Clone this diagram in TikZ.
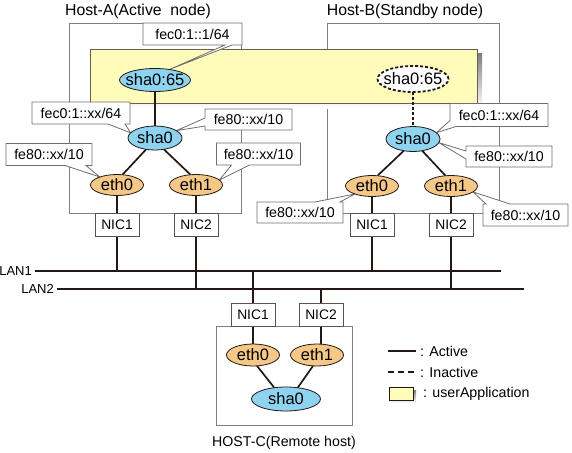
\documentclass[tikz,border=0pt]{standalone}
\usepackage{fontspec}
\setmainfont{Liberation Sans}
\usetikzlibrary{shapes.geometric,calc}
\pgfdeclarelayer{back}
\pgfdeclarelayer{callout}
\pgfsetlayers{back,callout,main}
\definecolor{ink}{HTML}{231815}
\definecolor{lblue}{HTML}{8ED3F0}
\definecolor{lorange}{HTML}{F5C888}
\definecolor{lyellow}{HTML}{FFFBB9}
\definecolor{shade}{HTML}{9A9A9A}
\definecolor{hostgray}{HTML}{7F7F7F}
\definecolor{callgray}{HTML}{6E6E6E}
\tikzset{
 px/.style={x=1pt,y=-1pt},
 hostbox/.style={draw=hostgray,line width=0.9pt,inner sep=0pt,outer sep=0pt},
 conn/.style={draw=ink,line width=1.7pt},
 inact/.style={draw=ink,line width=1.8pt,dash pattern=on 3pt off 2pt},
 ellbase/.style={ellipse,draw=ink,line width=0.8pt,inner sep=0pt,outer sep=0pt},
 eblue/.style={ellbase,fill=lblue},
 eorange/.style={ellbase,fill=lorange},
 etxt/.style={font=\fontsize{16.5}{19}\selectfont,inner sep=0pt},
 nicbox/.style={draw=ink!75,fill=white,line width=0.9pt,minimum width=44pt,minimum height=23pt,inner sep=0pt,outer sep=0pt,font=\fontsize{13.8}{16}\selectfont},
 calltext/.style={inner sep=0pt,outer sep=0pt,font=\fontsize{14.2}{16}\selectfont},
 callshape/.style={fill=white,draw=callgray,line width=0.8pt,line join=miter},
 lbl/.style={inner sep=0pt,font=\fontsize{14.2}{16}\selectfont},
 ttl/.style={inner sep=0pt,font=\fontsize{15.8}{18}\selectfont},
}
\begin{document}
\begin{tikzpicture}[px]
\useasboundingbox (0,0) rectangle (572,452);
% titles
\node[ttl] (titleA) at (138,11) {Host-A(Active~~node)};
\node[ttl] (titleB) at (405,11) {Host-B(Standby node)};
\node[lbl] (titleC) at (284,443) {HOST-C(Remote host)};
% ellipses
\node[eblue,minimum width=71pt,minimum height=23pt,label={[etxt]center:{sha0:65}}] (sha0ab) at (155,80) {};
\node[ellbase,fill=white,line width=1.8pt,dash pattern=on 3pt off 2pt,minimum width=71pt,minimum height=26pt,label={[etxt]center:{sha0:65}}] (sha0bb) at (413,79) {};
\node[eblue,minimum width=54pt,minimum height=24pt,label={[etxt]center:{sha0}}] (sha0a) at (155,138) {};
\node[eblue,minimum width=54pt,minimum height=25pt,label={[etxt]center:{sha0}}] (sha0b) at (413,139) {};
\node[eorange,minimum width=53pt,minimum height=21pt,label={[etxt]center:{eth0}}] (eth0a) at (117,185) {};
\node[eorange,minimum width=53pt,minimum height=21pt,label={[etxt]center:{eth1}}] (eth1a) at (196,185) {};
\node[eorange,minimum width=53pt,minimum height=21pt,label={[etxt]center:{eth0}}] (eth0b) at (372,186) {};
\node[eorange,minimum width=53pt,minimum height=21pt,label={[etxt]center:{eth1}}] (eth1b) at (451,186) {};
\node[eorange,minimum width=53pt,minimum height=22pt,label={[etxt]center:{eth0}}] (eth0c) at (253,355) {};
\node[eorange,minimum width=53pt,minimum height=22pt,label={[etxt]center:{eth1}}] (eth1c) at (317,355) {};
\node[eblue,minimum width=69pt,minimum height=24pt,label={[etxt]center:{sha0}}] (sha0c) at (286,399) {};
% NICs
\node[nicbox] (nic1a) at (117,224.5) {NIC1};
\node[nicbox] (nic2a) at (196,224.5) {NIC2};
\node[nicbox] (nic1b) at (372,224.5) {NIC1};
\node[nicbox] (nic2b) at (451,224.5) {NIC2};
\node[nicbox] (nic1c) at (253,314.5) {NIC1};
\node[nicbox] (nic2c) at (321,314.5) {NIC2};
% LANs
\coordinate (lan1w) at (35,271);
\coordinate (lan1e) at (501,271);
\coordinate (lan2w) at (57,289);
\coordinate (lan2e) at (524,289);
\node[lbl,anchor=east,font=\fontsize{13}{15}\selectfont] (lan1) at (32,271) {LAN1};
\node[lbl,anchor=east,font=\fontsize{13}{15}\selectfont] (lan2) at (54,289) {LAN2};
% callout texts
\node[calltext,minimum width=99pt,minimum height=22pt] (c1) at (192.5,34) {fec0:1::1/64};
\node[calltext,minimum width=98pt,minimum height=22pt] (c2) at (81,113) {fec0:1::xx/64};
\node[calltext,minimum width=87pt,minimum height=21pt] (c3) at (248.5,119.5) {fe80::xx/10};
\node[calltext,minimum width=86pt,minimum height=22pt] (c4) at (49,154.5) {fe80::xx/10};
\node[calltext,minimum width=84pt,minimum height=22pt] (c5) at (258.5,154) {fe80::xx/10};
\node[calltext,minimum width=98pt,minimum height=23pt] (c6) at (499,115) {fec0:1::xx/64};
\node[calltext,minimum width=86pt,minimum height=21pt] (c7) at (509,156.5) {fe80::xx/10};
\node[calltext,minimum width=86pt,minimum height=21pt] (c8) at (300,212.5) {fe80::xx/10};
\node[calltext,minimum width=85pt,minimum height=22pt] (c9) at (525.5,215) {fe80::xx/10};
% legend
\coordinate (legA) at (388,351);
\coordinate (legI) at (388,372);
\node[lbl,anchor=west] (legActive) at (420,351) {: Active};
\node[lbl,anchor=west] (legInactive) at (420,372) {: Inactive};
\node[lbl,anchor=west] (legUser) at (423,393.5) {: userApplication};
\draw[conn,line width=1.5pt] (legA) -- ++(28,0);
\draw[draw=ink,line width=1.6pt,dash pattern=on 6pt off 4pt] (legI) -- ++(28,0);
\fill[shade] (392,390) rectangle (416,403);
\node[draw=ink,line width=0.8pt,fill=lyellow,minimum width=24pt,minimum height=13pt,inner sep=0pt,outer sep=0pt] (legY) at (401,393.5) {};

\begin{pgfonlayer}{back}
\node[hostbox,minimum width=172pt,minimum height=190pt] (hostA) at (155,118) {};
\node[hostbox,minimum width=172pt,minimum height=190pt] (hostB) at (413,118) {};
\node[hostbox,minimum width=136pt,minimum height=99pt] (hostC) at (284,375.5) {};
\fill[shade] (95,54) rectangle (482,108);
\node[draw=ink!70,line width=0.6pt,fill=lyellow,minimum width=387pt,minimum height=54pt,inner sep=0pt,outer sep=0pt] (userapp) at (283.5,76) {};
% connectors
\draw[conn] (sha0ab.center) -- (sha0a.center);
\draw[inact] (sha0bb.south) -- (sha0b.north);
\draw[conn] (sha0a.-128) -- (eth0a.62);
\draw[conn] (sha0a.-52) -- (eth1a.118);
\draw[conn] (sha0b.-128) -- (eth0b.62);
\draw[conn] (sha0b.-52) -- (eth1b.118);
\draw[conn] (eth0c.-70) -- (sha0c.136);
\draw[conn] (eth1c.-110) -- (sha0c.44);
\draw[conn] (eth0a.center) -- (nic1a.center);
\draw[conn] (eth1a.center) -- (nic2a.center);
\draw[conn] (eth0b.center) -- (nic1b.center);
\draw[conn] (eth1b.center) -- (nic2b.center);
\draw[conn] (nic1c.center) -- (eth0c.center);
\draw[conn] (nic2c.center) -- (nic2c.center |- eth1c.center);
\draw[conn] (lan1w) -- (lan1e);
\draw[conn] (lan2w) -- (lan2e);
\draw[conn] (nic1a.center) -- (nic1a.center |- lan1w);
\draw[conn] (nic2a.center) -- (nic2a.center |- lan2w);
\draw[conn] (nic1b.center) -- (nic1b.center |- lan1w);
\draw[conn] (nic2b.center) -- (nic2b.center |- lan2w);
\draw[conn] (nic1c.center) -- (nic1c.center |- lan1w);
\draw[conn] (nic2c.center) -- (nic2c.center |- lan2w);
\end{pgfonlayer}

\begin{pgfonlayer}{callout}
% bottom wedge
\path[callshape] (c1.north west) -- (c1.north east) -- (c1.south east) -- ($(c1.south west)+(89,0)$) -- (sha0ab.36) -- ($(c1.south west)+(82,0)$) -- (c1.south west) -- cycle;
\path[callshape] (c2.north west) -- (c2.north east) -- (c2.south east) -- ($(c2.south west)+(93,0)$) -- (sha0a.168) -- ($(c2.south west)+(76,0)$) -- (c2.south west) -- cycle;
% left wedge
\path[callshape] (c3.north west) -- (c3.north east) -- (c3.south east) -- (c3.south west) -- ($(c3.north west)+(0,17)$) -- (sha0a.19) -- ($(c3.north west)+(0,9)$) -- cycle;
\path[callshape] (c4.north west) -- (c4.north east) -- (c4.south east) -- ($(c4.south west)+(80,0)$) -- (eth0a.155) -- ($(c4.south west)+(59,0)$) -- (c4.south west) -- cycle;
\path[callshape] (c5.north west) -- (c5.north east) -- (c5.south east) -- ($(c5.south west)+(33,0)$) -- (eth1a.12) -- ($(c5.south west)+(15,0)$) -- (c5.south west) -- cycle;
% corner wedge
\path[callshape] (c6.north west) -- (c6.north east) -- (c6.south east) -- ($(c6.south west)+(6,0)$) -- (sha0b.15) -- ($(c6.north west)+(0,17)$) -- cycle;
\path[callshape] (c7.north west) -- (c7.north east) -- (c7.south east) -- (c7.south west) -- ($(c7.north west)+(0,13)$) -- (sha0b.-8) -- ($(c7.north west)+(0,5)$) -- cycle;
% top wedge
\path[callshape] (c8.north west) -- ($(c8.north west)+(58,0)$) -- (eth0b.205) -- ($(c8.north west)+(83,0)$) -- (c8.north east) -- (c8.south east) -- (c8.south west) -- cycle;
\path[callshape] (c9.north west) -- ($(c9.north west)+(3,0)$) -- (eth1b.-15) -- ($(c9.north west)+(27,0)$) -- (c9.north east) -- (c9.south east) -- (c9.south west) -- cycle;
\end{pgfonlayer}
\end{tikzpicture}
\end{document}
